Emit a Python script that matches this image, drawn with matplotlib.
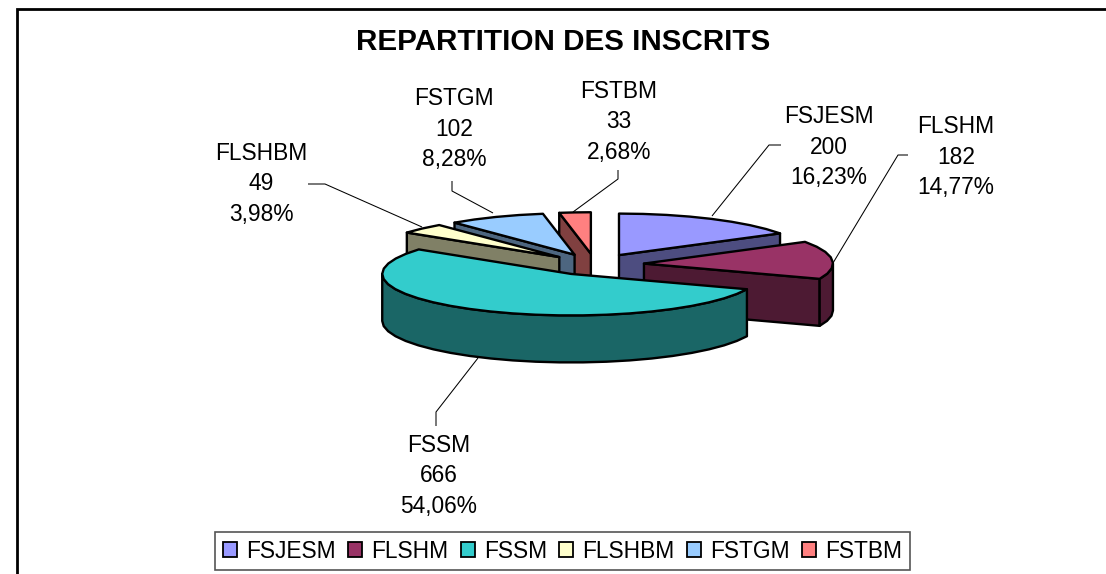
import numpy as np
import matplotlib
matplotlib.use("Agg")
import matplotlib.pyplot as plt
from matplotlib.patches import Polygon, Patch

plt.rcParams['font.family'] = ['Liberation Sans', 'DejaVu Sans']

categories = ["FSJESM", "FLSHM", "FSSM", "FLSHBM", "FSTGM", "FSTBM"]
values = [200, 182, 666, 49, 102, 33]
percent_labels = ["16,23%", "14,77%", "54,06%", "3,98%", "8,28%", "2,68%"]
top_colors = ["#9999FF", "#993366", "#33CCCC", "#FFFFCC", "#99CCFF", "#FF8080"]
side_colors = ["#4D4D80", "#4D1A33", "#1A6666", "#808066", "#4D6680", "#804040"]
label_centers = [(829, 147), (956, 157), (439, 476), (261, 184), (454, 129), (619, 122)]
leader_paths = [
    [(712, 216), (769, 145), (781, 145)],
    [(833, 263), (898, 155), (908, 155)],
    [(478, 358), (436, 412), (436, 426)],
    [(422, 227), (325, 184), (308, 184)],
    [(493, 213), (452, 191), (452, 181)],
    [(573, 212), (618, 179), (618, 170)],
]

W, H = 1106, 574
CX, CY, RX, RY, DEPTH, EXPLODE = 595, 264.5, 189, 41.5, 47, 0.26
DRAW_ORDER = [5, 0, 4, 3, 1, 2]

fig = plt.figure(figsize=(W / 100, H / 100), dpi=100)
ax = fig.add_axes([0, 0, 1, 1])
ax.set_xlim(0, W)
ax.set_ylim(H, 0)
ax.axis("off")

LW = 1.7
total = sum(values)
edges = np.concatenate([[0], np.cumsum(values)]) / total * 2 * np.pi


def rim(a, b, ox, oy):
    t = np.linspace(a, b, max(3, int((b - a) / np.radians(7)) + 1))
    return np.column_stack([ox + RX * np.sin(t), oy - RY * np.cos(t)])


for i in DRAW_ORDER:
    a, b = edges[i], edges[i + 1]
    mid = (a + b) / 2
    ox = CX + EXPLODE * RX * np.sin(mid)
    oy = CY - EXPLODE * RY * np.cos(mid)
    apex = np.array([ox, oy])
    down = np.array([0, DEPTH])
    arc = rim(a, b, ox, oy)
    # radial side faces turned to the viewer
    for ang, p in ((a, arc[0]), (b, arc[-1])):
        visible = (ang == a and np.sin(ang) < -1e-6) or (ang == b and np.sin(ang) > 1e-6)
        if visible:
            ax.add_patch(Polygon([apex, p, p + down, apex + down], closed=True,
                                 fc=side_colors[i], ec="black", lw=LW, joinstyle="round"))
    # outer rim in front
    lo, hi = max(a, np.pi / 2), min(b, 3 * np.pi / 2)
    if hi > lo:
        r = rim(lo, hi, ox, oy)
        ax.add_patch(Polygon(np.vstack([r, (r + down)[::-1]]), closed=True,
                             fc=side_colors[i], ec="black", lw=LW, joinstyle="round"))
    ax.add_patch(Polygon(np.vstack([apex, arc]), closed=True,
                         fc=top_colors[i], ec="black", lw=LW, joinstyle="round"))

for i, cat in enumerate(categories):
    pts = np.array(leader_paths[i])
    ax.plot(pts[:, 0], pts[:, 1], color="black", lw=0.75, solid_capstyle="butt")
    ax.text(*label_centers[i], f"{cat}\n{values[i]}\n{percent_labels[i]}", ha="center", va="center",
            fontsize=16.4, linespacing=1.42, color="black")

ax.text(563, 41.5, "REPARTITION DES INSCRITS", ha="center", va="center",
        fontsize=21.3, fontweight="bold", color="black")

# chart frame, open at the bottom and right
ax.plot([17, 17, W], [H, 8.5, 8.5], color="black", lw=2, solid_joinstyle="miter")

handles = [Patch(fc=c, ec="black", lw=1.3) for c in top_colors]
leg = ax.legend(handles, categories, ncol=6, loc="center",
                bbox_to_anchor=(562.5 / W, 1 - 551 / H), bbox_transform=fig.transFigure,
                fontsize=16.4, frameon=True, fancybox=False, edgecolor="#555555", framealpha=1,
                handlelength=0.62, handleheight=0.62, handletextpad=0.4, columnspacing=0.53,
                borderpad=0.35, borderaxespad=0)
leg.get_frame().set_linewidth(1.2)

fig.savefig("out.png", dpi=100)
